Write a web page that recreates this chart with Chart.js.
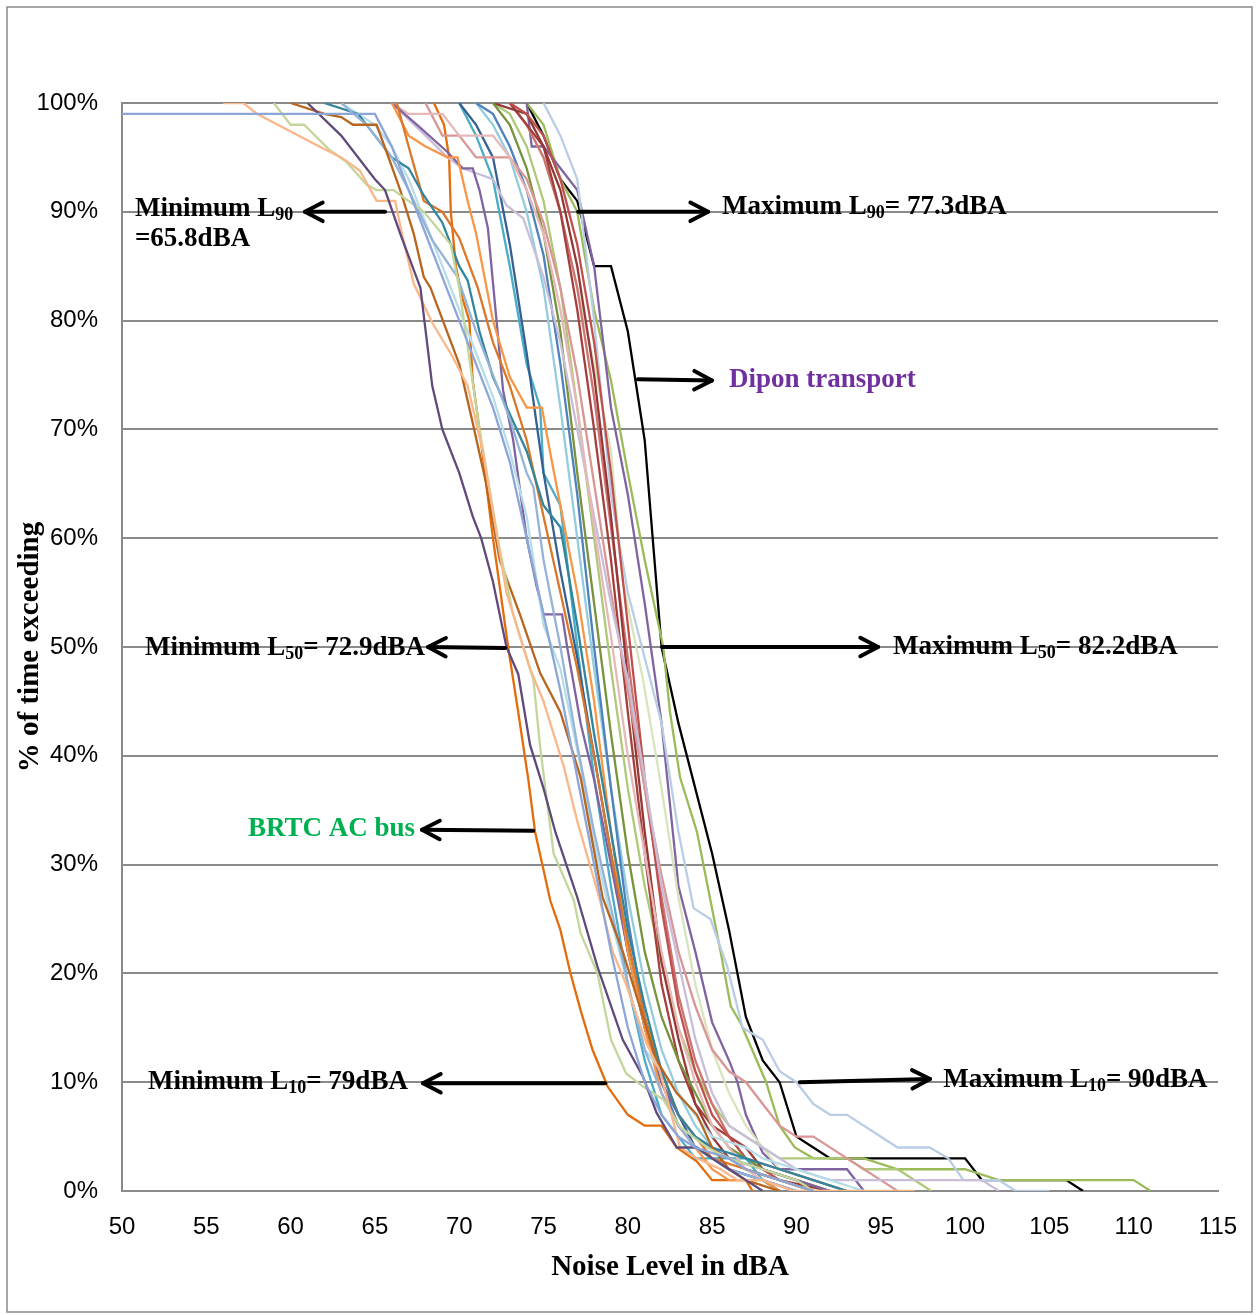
<!DOCTYPE html>
<html>
<head>
<meta charset="utf-8">
<script src="https://cdn.jsdelivr.net/npm/chart.js@4.4.1/dist/chart.umd.min.js"></script>
<style>
  html, body { margin: 0; padding: 0; background: #fff; }
  canvas { display: block; }
</style>
</head>
<body>
<canvas id="noiseChart" width="1256" height="1315"></canvas>
<script>
// tick values
const xTicks = [50, 55, 60, 65, 70, 75, 80, 85, 90, 95, 100, 105, 110, 115];
const yTicks = [0, 10, 20, 30, 40, 50, 60, 70, 80, 90, 100];

// cumulative curves: [noise level dBA, % of time exceeding]
const flatBlue = [[50,99],[65,99],[66,96],[67,92],[68,88],[69,84],[70,80],[71,76],[72,72],[73,67],[74,60],[75,53],[76,46],[77,38],[78,30],[79,22],[80,15],[81,10],[82,7],[83,5],[84,4],[86,3],[87,2],[89,1],[91,0]];
const darkPurple = [[61,100],[63,97],[65,93],[65.6,92],[66.5,88],[67.7,83],[68.4,74],[69,70],[70,66],[70.8,62],[71.3,60],[72,56],[72.8,50],[73.5,47.5],[74.2,41],[75,37],[75.7,33],[77,27],[78.2,20.6],[79.7,13.9],[80.9,10.5],[81.7,7.2],[82.9,4],[84.1,4],[85,3],[86,2],[87,1],[88,0]];
const lightOrange = [[56,100],[57.2,100],[58,99],[61.7,96],[63,95],[64.1,93.8],[65.1,91],[66.2,91],[66.6,88],[67.3,83.4],[68.4,79.8],[69.6,76.7],[70.5,74],[71.4,68],[72.8,55],[74.2,48],[75,45],[76.2,39],[77,34],[78.3,27],[79.1,22],[79.9,19],[81.1,13.6],[81.9,11],[83.1,4],[84.1,3],[85.5,2],[86.5,1],[88,1],[89.8,0],[97,0]];
const lightGreen = [[59,100],[60,98],[60.8,98],[62.3,95.7],[63.3,94.6],[64.5,92.5],[65.1,92],[66.1,92],[67.9,90],[69.5,87],[70,83],[71.2,70],[72.4,59],[73.2,53],[74.4,47],[74.8,40.8],[75.6,31],[76.8,26.7],[77.2,23.7],[78.2,20],[79,13.9],[79.9,10.8],[80.9,9.6],[82.1,8.4],[83.1,5.9],[84.7,4],[86,3],[88,2],[90,1],[91,0]];
const brown = [[60,100],[62,99],[63,98.7],[63.7,98],[65.1,98],[65.9,94.6],[66.5,92],[67.3,88],[67.9,84],[68.3,83],[70,76],[70.8,70.6],[71.6,65],[72.4,58],[73.6,53],[74.8,47.6],[76,44],[77.2,38],[78.5,27],[79.7,22],[80.7,17],[81.7,12],[82.9,9],[84.1,7],[85,4],[86,2],[87,1],[89,0]];
const brtcBus = [[68.5,100],[69.1,98],[69.4,95],[69.5,90],[69.8,85],[70.2,82],[70.6,80],[70.8,74.5],[71.2,70],[71.6,65],[72,60],[72.9,50],[73.5,44],[74.1,37.8],[74.5,33],[75.4,26.7],[76,24],[76.6,20],[77.2,16.6],[77.9,13],[78.8,9.6],[80,7],[81,6],[82,6],[82.9,4],[84.1,2.7],[85,1],[87,1],[87.4,0]];
const periwinkle = [[63,100],[64.5,98],[66,95],[67,92],[68.4,87.4],[69.9,84],[71,79],[72,75],[73,71],[74,66],[74.4,64.7],[75,58],[76,50],[77,41],[78,33],[79,26],[80,19],[81,13],[82,9],[83,6],[84,4],[86,2],[88,1],[90,0]];
const teal = [[62,100],[64,99],[65,97],[66,95],[67,94],[67.9,91.5],[69,89],[70,85],[70.5,83.7],[71.2,79],[72,74.8],[74,68],[75,63],[76,61],[77,52],[78,42],[79,33],[80,24],[81,17],[82,11],[83,7],[84,5],[85,4],[87,3],[89,2],[91,1],[93,0]];
const paleBlue = [[63,100],[65,98],[66,96],[67,93],[68,89],[69,85],[70,81],[71,77],[72,73],[73,68],[74,62],[74.4,58],[75,52],[76,48],[77.2,39],[78,32],[79,25],[80,19],[81,13],[82,11],[83,9],[84,7],[85,5],[87,4],[88,3],[90,2],[92,1],[94,0]];
const purpleStep = [[66,100],[67.5,98],[69.3,95.5],[70.2,94],[70.8,94],[71.2,92],[71.7,88.5],[72,83.5],[72.6,73.6],[73.2,69],[74,60],[74.6,55.5],[75,53],[76.1,53],[76.4,50],[77.2,43],[78,37.8],[79,30],[80,22],[81,15],[82,10],[83,7],[84,5],[86,3],[88,2],[90,1],[92,0]];
const orangeMid = [[66,100],[67,97],[68,96],[69.3,95],[69.9,95],[70.5,91],[71,88],[71.5,84],[72,80],[73,74.8],[74,72],[74.9,72],[75.5,67],[76,63],[77,55],[78,45],[79,33],[80,22],[81,15],[82,9],[83,6],[84,4],[85,2],[86,1],[88,1],[89,0]];
const brownOrange = [[66.3,100],[67,96],[67.9,91],[69,90],[70,87.6],[71.1,83],[72,78],[73,74],[74,69],[75,62],[76,55],[77,48],[78,40],[79,31],[80,23],[81,16],[82,11],[83,7],[84,5],[85,3],[87,2],[89,1],[91,0]];
const red = [[73,100],[74,99],[75,97],[76,93],[77,87],[78,78],[79,66],[80,52],[81,38],[82,26],[83,17],[84,11],[85,7],[86,5],[87,3],[88,2],[89,1],[91,0]];
const darkRed = [[72,100],[74,99],[75,96],[76,92],[77,85],[78,75],[79,62],[80,47],[81,33],[82,21],[83,14],[84,8],[85,5],[86,3],[87,2],[89,1],[92,0]];
const maroon = [[73,100],[74,98],[75,96],[76,90],[77,81],[78,70],[79,58],[80,44],[81,31],[82,19],[83,12],[84,8],[85,6],[87,4],[88,2],[90,1],[91,0]];
const pink = [[68,100],[69,97],[70,97],[71,95],[73,95],[74,93],[75,89],[76,83],[77,75],[78,65],[79,55],[80,46],[81,37],[82,29],[83,22],[84,17],[85,13],[86,11],[87,10],[88,8],[89,6],[90,5],[91,5],[93,3],[94,2],[95,1],[96,0]];
const lavender = [[66,100],[68,97],[69.3,95],[70.2,94],[72,93],[72.8,90.6],[73.8,89.4],[75,84],[76,78],[77,70],[78,62],[79,54],[80,47],[81,38],[82,28],[83,21],[84,14],[85,9],[86,6],[88,4],[90,2],[92,1],[98.9,1],[101,1],[102,0]];
const blue = [[71,100],[72,99],[73,96],[74,92],[75,86],[76,76],[77,64],[78,50],[79,37],[80,25],[81,16],[82,10],[83,6],[84,4],[85,3],[86,2],[88,1],[90,0]];
const navy = [[70,100],[71,98],[72,95],[73,87],[74,77],[75,66],[76,57],[77,49],[78,40],[79,31],[80,22],[81,15],[82,10],[83,7],[84,4],[86,2],[88,1],[89,0]];
const aqua = [[70,100],[71,97],[72,93],[73,85],[74,76],[74.8,72],[75,66],[76,63],[77,50],[78,38],[79,28],[80,19],[81,12],[82,7],[83,5],[84,3],[87,3],[88,1],[89,0]];
const olive = [[72,100],[73,98],[74,94],[75,88],[76,79],[77,66],[78,54],[79,42],[80,31],[81,22],[82,16],[83,12],[84,9],[85,6],[86,4],[88,2],[90,1],[92,0]];
const lightAqua = [[71,100],[72,98],[73,95],[74,90],[75,83],[76,72],[77,60],[78,48],[79,37],[80,27],[81,19],[82,13],[83,9],[84,6],[85,4],[87,2],[89,1],[91,0]];
const rose = [[66,100],[67,99],[69,99],[70,97],[72,97],[73,95],[74,92],[75,88],[76,81],[77,72],[78,61],[79,51],[80,40],[81,31],[82,22],[83,15],[84,10],[85,6],[86,4],[87,2],[88,1],[90,0]];
const salmonRed = [[73,100],[74,98],[75,95],[76,90],[77,83],[78,73],[79,61],[80,49],[81,37],[82,27],[83,18],[84,12],[85,8],[86,5],[87,3],[89,2],[91,1],[93,0]];
const paleGreen = [[73,100],[74,98],[75,95],[76,90],[77,83],[78,76],[79,68],[79.7,56],[80.9,47],[82,37],[83,27],[84,19],[85,13],[86,9],[87,6],[88,4],[89,2],[91,1],[93,0]];
const greenB = [[72,100],[73,99],[74,96],[75,91],[76,83],[77,72],[78,60],[79,48],[80,37],[81,28],[82,21],[83,15],[84,11],[85,8],[86,6],[87,5],[89,3],[93,3],[94,2],[96,2],[98,0]];
const purpleRight = [[74,100],[74.3,96],[75,96],[77,92],[78,85],[79,72],[80,64],[81,54],[82,43],[83,28],[84,22],[85,15.5],[86,12],[86.5,10],[87,7],[88,3.5],[89,2],[93,2],[94,0]];
const blueGrey = [[75,100],[76,97],[77,93],[78,80],[79,64],[80,55],[81,49],[82,43],[83,33],[83.9,26],[84.9,25],[85.9,20.6],[86.8,15],[88,13.9],[89,11],[90,10],[91,8],[92,7],[93,7],[96,4],[97.9,4],[99,3],[99.9,1],[102,1],[103,0],[105,0]];
const greenA = [[74,100],[75,98],[76,93],[77,90],[78,81],[79,74.5],[80,66],[81,58],[82.1,50],[82.5,44],[83.1,38],[84.1,33],[84.9,26.7],[85.5,22],[86.1,17],[86.7,15.4],[88.2,10],[89,6],[89.9,4],[91,3],[94,3],[96,2],[100,2],[102,1],[110,1],[111,0]];
const dipon = [[74,100],[75,97],[76,93],[77,91],[78,85],[79,85],[80,79],[81,69],[82,50],[83,43],[85,31],[86,24],[87,16],[88,12],[89,10],[90,5],[91,4],[92,3],[100,3],[101,1],[106,1],[107,0]];

const seriesData = [flatBlue, darkPurple, lightOrange, lightGreen, brown, periwinkle, teal, paleBlue,
  brownOrange, orangeMid, purpleStep, rose, lavender, pink, navy, aqua, blue, olive, lightAqua,
  red, darkRed, maroon, salmonRed, greenB, paleGreen, brtcBus, blueGrey, purpleRight, greenA, dipon];
const seriesColors = ['#8CA6D8', '#604A7B', '#FAB78A', '#C3D69B', '#B7651F', '#95B3D7', '#31859C', '#B7DEE8',
  '#D9772A', '#F79646', '#8064A2', '#E6B9B8', '#C9BEDA', '#D99694', '#376092', '#4BACC6', '#4F81BD', '#77933C', '#93CDDD',
  '#C0504D', '#953735', '#A33F3C', '#CD7371', '#AFC97A', '#D7E4BD', '#E46C0A', '#B9CDE5', '#8064A2', '#9BBB59', '#000000'];

// annotation arrows and labels, placed in data units
function richText(ctx, parts, x, y, color) {
  const big = 'bold 27px "Liberation Serif", "Times New Roman", serif';
  const small = 'bold 18px "Liberation Serif", "Times New Roman", serif';
  ctx.fillStyle = color;
  ctx.textBaseline = 'middle';
  ctx.textAlign = 'left';
  let cx = x;
  parts.forEach(p => {
    ctx.font = p.sub ? small : big;
    ctx.fillText(p.t, cx, p.sub ? y + 6 : y);
    cx += ctx.measureText(p.t).width;
  });
}

function arrow(ctx, x1, y1, x2, y2) {
  const a = Math.atan2(y2 - y1, x2 - x1);
  ctx.strokeStyle = '#000';
  ctx.lineWidth = 4;
  ctx.lineCap = 'round';
  ctx.lineJoin = 'round';
  ctx.beginPath();
  ctx.moveTo(x1, y1);
  ctx.lineTo(x2, y2);
  ctx.stroke();
  ctx.beginPath();
  ctx.moveTo(x2 - 20 * Math.cos(a - 0.48), y2 - 20 * Math.sin(a - 0.48));
  ctx.lineTo(x2, y2);
  ctx.lineTo(x2 - 20 * Math.cos(a + 0.48), y2 - 20 * Math.sin(a + 0.48));
  ctx.stroke();
}

const notes = [
  { from: [65.6, 90], to: [60.85, 90], at: [50.77, 90.25], parts: [{t: 'Minimum L'}, {t: '90', sub: true}], color: '#000' },
  { at: [50.77, 87.5], parts: [{t: '=65.8dBA'}], color: '#000' },
  { from: [77.05, 90], to: [84.76, 90], at: [85.59, 90.4], parts: [{t: 'Maximum L'}, {t: '90', sub: true}, {t: '= 77.3dBA'}], color: '#000' },
  { from: [80.6, 74.6], to: [84.99, 74.5], at: [86.0, 74.5], parts: [{t: 'Dipon transport'}], color: '#7030A0' },
  { from: [72.72, 49.9], to: [68.15, 50], at: [51.36, 49.9], parts: [{t: 'Minimum L'}, {t: '50', sub: true}, {t: '= 72.9dBA'}], color: '#000' },
  { from: [82.03, 50], to: [94.84, 50], at: [95.73, 50], parts: [{t: 'Maximum L'}, {t: '50', sub: true}, {t: '= 82.2dBA'}], color: '#000' },
  { from: [74.38, 33.1], to: [67.79, 33.2], at: [57.47, 33.3], parts: [{t: 'BRTC AC bus'}], color: '#00B050' },
  { from: [78.65, 9.9], to: [67.85, 9.9], at: [51.54, 10.0], parts: [{t: 'Minimum L'}, {t: '10', sub: true}, {t: '= 79dBA'}], color: '#000' },
  { from: [90.2, 10.0], to: [97.92, 10.3], at: [98.7, 10.2], parts: [{t: 'Maximum L'}, {t: '10', sub: true}, {t: '= 90dBA'}], color: '#000' }
];

const notePlugin = {
  id: 'notes',
  beforeDraw(chart) {
    const ctx = chart.ctx;
    ctx.save();
    ctx.fillStyle = '#fff';
    ctx.fillRect(0, 0, chart.width, chart.height);
    ctx.strokeStyle = '#8a8a8a';
    ctx.lineWidth = 1.5;
    ctx.strokeRect(7, 7, 1245, 1305);
    ctx.restore();
  },
  afterDatasetsDraw(chart) {
    const ctx = chart.ctx;
    const xs = chart.scales.x, ys = chart.scales.y;
    ctx.save();
    notes.forEach(n => {
      if (n.from) {
        arrow(ctx, xs.getPixelForValue(n.from[0]), ys.getPixelForValue(n.from[1]),
          xs.getPixelForValue(n.to[0]), ys.getPixelForValue(n.to[1]));
      }
      richText(ctx, n.parts, xs.getPixelForValue(n.at[0]), ys.getPixelForValue(n.at[1]), n.color);
    });
    ctx.restore();
  }
};

const datasets = seriesData.map((s, i) => ({
  data: s.map(p => ({x: p[0], y: p[1]})),
  borderColor: seriesColors[i],
  borderWidth: 2.3,
  pointRadius: 0,
  tension: 0,
  fill: false
}));

const tickFont = { family: '"Liberation Sans Narrow", "Liberation Sans", Arial, sans-serif', size: 24 };
const titleFont = { family: '"Liberation Serif", "Times New Roman", serif', size: 29, weight: 'bold' };

new Chart(document.getElementById('noiseChart').getContext('2d'), {
  type: 'line',
  data: { datasets: datasets },
  options: {
    responsive: false,
    animation: false,
    devicePixelRatio: 1,
    layout: { padding: { top: 103, right: 38, left: 0, bottom: 0 } },
    plugins: { legend: { display: false }, tooltip: { enabled: false } },
    scales: {
      x: {
        type: 'linear',
        min: 50, max: 115,
        afterBuildTicks: s => { s.ticks = xTicks.map(v => ({value: v})); },
        afterFit: s => { s.height = 124; s.paddingLeft = 0; s.paddingRight = 0; },
        grid: { display: false, drawTicks: false },
        border: { display: true, color: '#8a8a8a', width: 2 },
        ticks: { font: tickFont, color: '#000', padding: 22, maxRotation: 0 },
        title: { display: true, text: 'Noise Level in dBA', font: titleFont, color: '#000', padding: { top: 0, bottom: 30 } }
      },
      y: {
        min: 0, max: 100,
        afterBuildTicks: s => { s.ticks = yTicks.map(v => ({value: v})); },
        afterFit: s => { s.width = 122; },
        grid: { color: '#8a8a8a', lineWidth: 2, drawTicks: false },
        border: { display: true, color: '#8a8a8a', width: 2 },
        ticks: { font: tickFont, color: '#000', padding: 24, callback: v => v + '%' },
        title: { display: true, text: '% of time exceeding', font: titleFont, color: '#000', padding: { top: 13, bottom: 0 } }
      }
    }
  },
  plugins: [notePlugin]
});
</script>
</body>
</html>
